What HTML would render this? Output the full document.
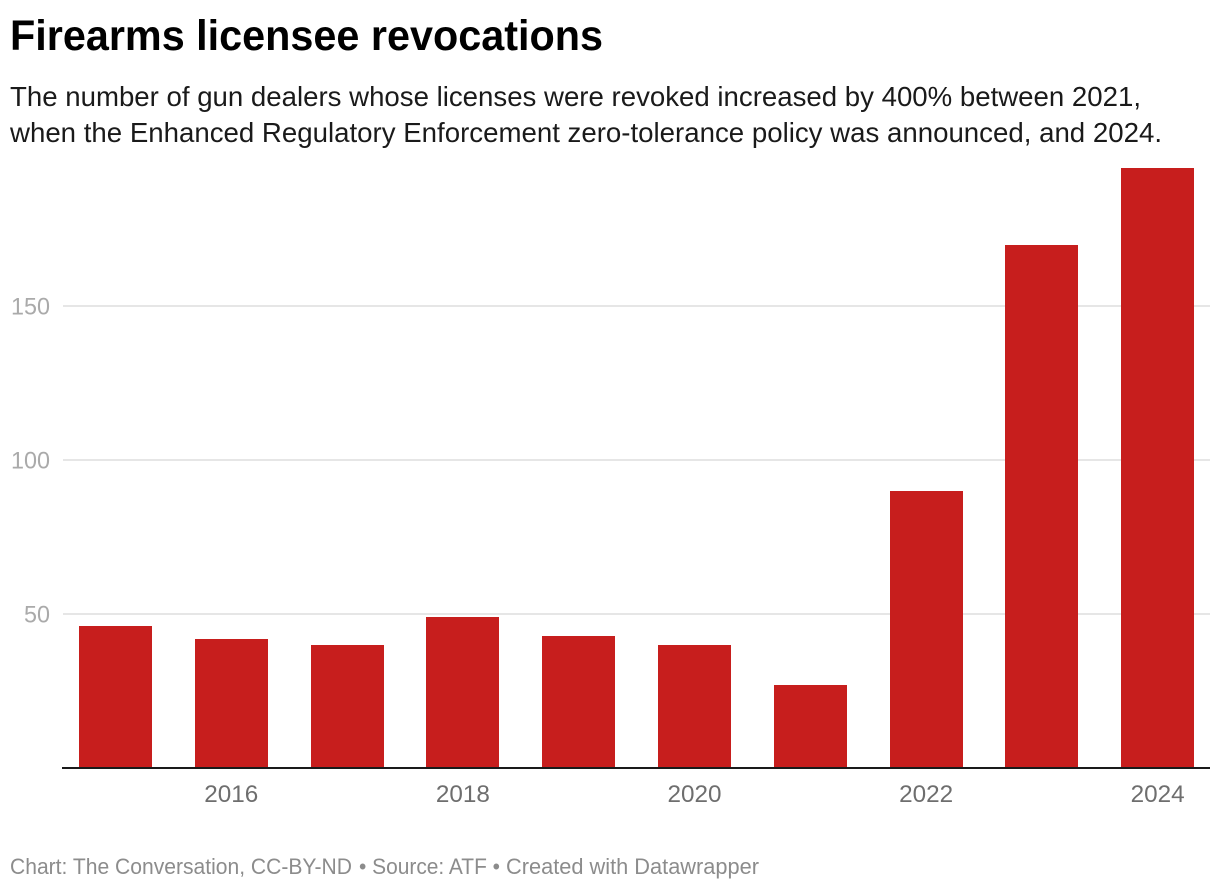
<!DOCTYPE html>
<html lang="en">
<head>
<meta charset="utf-8">
<title>Firearms licensee revocations</title>
<style>
html,body{margin:0;padding:0;background:#fff;width:1220px;height:890px;overflow:hidden}
svg{display:block;font-family:"Liberation Sans",Arial,sans-serif}
</style>
</head>
<body>
<svg id="chart" width="1220" height="890" viewBox="0 0 1220 890" xmlns="http://www.w3.org/2000/svg">
  <text x="10" y="50" font-size="43" font-weight="700" fill="#000" textLength="593" lengthAdjust="spacingAndGlyphs">Firearms licensee revocations</text>
  <text x="10" y="106" font-size="28" fill="#1a1a1a" textLength="1131" lengthAdjust="spacingAndGlyphs">The number of gun dealers whose licenses were revoked increased by 400% between 2021,</text>
  <text x="10" y="142" font-size="28" fill="#1a1a1a" textLength="1152" lengthAdjust="spacingAndGlyphs">when the Enhanced Regulatory Enforcement zero-tolerance policy was announced, and 2024.</text>
  <g id="grid"></g>
  <g id="bars"></g>
  <g id="y-axis"></g>
  <g id="x-axis"></g>
  <text x="10" y="874" font-size="22" fill="#8c8c8c" textLength="342" lengthAdjust="spacingAndGlyphs">Chart: The Conversation, CC-BY-ND</text>
  <text x="359" y="874" font-size="22" fill="#8c8c8c" textLength="141" lengthAdjust="spacingAndGlyphs">• Source: ATF •</text>
  <text x="506" y="874" font-size="22" fill="#8c8c8c" textLength="253" lengthAdjust="spacingAndGlyphs">Created with Datawrapper</text>
</svg>
<script>
const years = [2015, 2016, 2017, 2018, 2019, 2020, 2021, 2022, 2023, 2024];
const revocations = [46, 42, 40, 49, 43, 40, 27, 90, 170, 195];
const yTicks = [50, 100, 150];
const xTicks = [2016, 2018, 2020, 2022, 2024];

const NS = 'http://www.w3.org/2000/svg';
const plotLeft = 62, plotRight = 1210, baseY = 767.8, axisY = 768;
const firstLeft = 79, step = 115.8, barWidth = 73, pxPerUnit = 3.0745;

function barLeft(year) {
  return Math.round(firstLeft + (year - years[0]) * step);
}
function xScale(year) {
  return firstLeft + barWidth / 2 + (year - years[0]) * step;
}
function yScale(value) {
  return Math.round(baseY - value * pxPerUnit);
}
function make(tag, attrs, parent, text) {
  const el = document.createElementNS(NS, tag);
  for (const k in attrs) el.setAttribute(k, attrs[k]);
  if (text !== undefined) el.textContent = text;
  parent.appendChild(el);
  return el;
}

const grid = document.getElementById('grid');
const barsG = document.getElementById('bars');
const yAxis = document.getElementById('y-axis');
const xAxis = document.getElementById('x-axis');

yTicks.forEach(function (t) {
  const gy = Math.floor(baseY - t * pxPerUnit);
  const line = make('line', {x1: plotLeft + 1, x2: plotRight, y1: gy, y2: gy, stroke: '#e6e6e6', 'stroke-width': 2, 'shape-rendering': 'crispEdges'}, grid);
  
  
  const label = make('text', {x: 50, y: gy + 8.5, 'text-anchor': 'end', 'font-size': 24, fill: '#aaaaaa', textLength: String(t).length * 13, lengthAdjust: 'spacingAndGlyphs'}, yAxis, String(t));
  
  
});

years.forEach(function (year, i) {
  const top = yScale(revocations[i]);
  const bar = make('rect', {x: barLeft(year), y: top, width: barWidth, height: axisY - top, fill: '#c71e1d', 'shape-rendering': 'crispEdges'}, barsG);
  
  
});

const axisLine = make('line', {x1: plotLeft, x2: plotRight, y1: axisY, y2: axisY, stroke: '#1a1a1a', 'stroke-width': 2, 'shape-rendering': 'crispEdges'}, xAxis);



xTicks.forEach(function (year) {
  const label = make('text', {x: xScale(year), y: 802, 'text-anchor': 'middle', 'font-size': 24, fill: '#6e6e6e', textLength: 54, lengthAdjust: 'spacingAndGlyphs'}, xAxis, String(year));
  
  
});
</script>
</body>
</html>
